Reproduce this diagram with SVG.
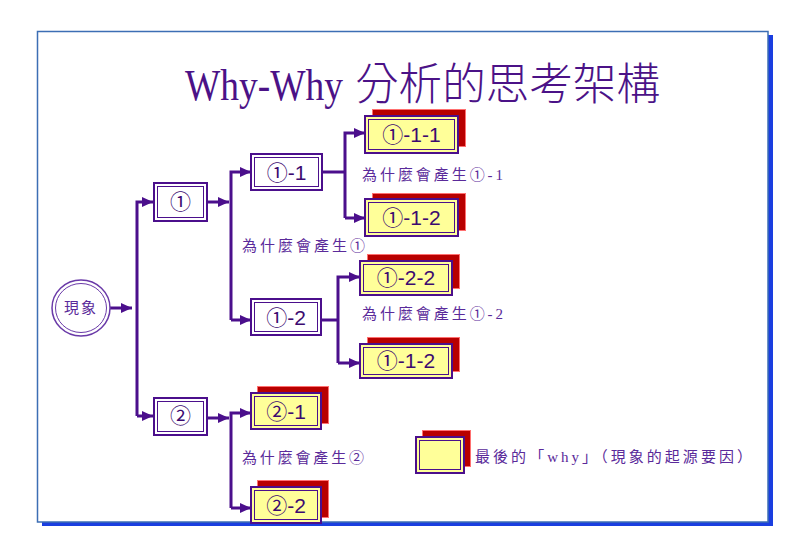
<svg xmlns="http://www.w3.org/2000/svg" width="800" height="553" viewBox="0 0 800 553">
<style>
.ln{fill:none;stroke:#4b0f8c;stroke-width:3}
.ob{fill:#fff;stroke:#4b0f8c;stroke-width:2}
.ib{fill:none;stroke:#4b0f8c;stroke-width:1}
.yb{fill:#ffff99;stroke:#4b0f8c;stroke-width:2}
.rb{fill:#b80000;stroke:#ff7070;stroke-width:1}
.bt{font-family:"Liberation Sans","Noto Sans CJK TC",sans-serif;font-size:21px;fill:#3c0a70;text-anchor:middle}
.lb{font-family:"Liberation Serif","Noto Sans CJK TC",serif;font-size:15px;fill:#5a2a9a}
.tt{font-family:"Liberation Serif","Noto Sans CJK TC",serif;font-size:44px;fill:#4b1287}
</style>
<defs>
<marker id="ah" markerUnits="userSpaceOnUse" markerWidth="11" markerHeight="10" refX="11" refY="5" orient="auto">
<path d="M0,0 L11,5 L0,10 z" fill="#4b0f8c"/>
</marker>
</defs>
<rect x="42" y="35" width="731" height="491" fill="#1a3ee0"/>
<rect x="37.5" y="31.5" width="730.5" height="490.5" fill="#fff" stroke="#3c6eb4" stroke-width="1.5"/>
<g id="title">
<text class="tt" x="185" y="100" textLength="158" lengthAdjust="spacingAndGlyphs">Why-Why</text>
<text class="tt" x="355" y="100" textLength="305" lengthAdjust="spacingAndGlyphs" font-family="Noto Sans CJK TC, sans-serif" font-weight="300">分析的思考架構</text>
</g>
<g id="connectors">
<path class="ln" d="M110,308 H132" marker-end="url(#ah)"/>
<path class="ln" d="M137,416 V202 H153" marker-end="url(#ah)"/>
<path class="ln" d="M137,416 H153" marker-end="url(#ah)"/>
<path class="ln" d="M207,202 H229" marker-end="url(#ah)"/>
<path class="ln" d="M231,320 V172 H251" marker-end="url(#ah)"/>
<path class="ln" d="M231,320 H251" marker-end="url(#ah)"/>
<path class="ln" d="M322,172 H345"/>
<path class="ln" d="M345,218 V133 H365" marker-end="url(#ah)"/>
<path class="ln" d="M345,218 H365" marker-end="url(#ah)"/>
<path class="ln" d="M321,320 H338"/>
<path class="ln" d="M338,363 V277 H360" marker-end="url(#ah)"/>
<path class="ln" d="M338,363 H360" marker-end="url(#ah)"/>
<path class="ln" d="M207,418 H229" marker-end="url(#ah)"/>
<path class="ln" d="M231,508 V413 H251" marker-end="url(#ah)"/>
<path class="ln" d="M231,508 H251" marker-end="url(#ah)"/>
</g>
<g id="n0">
<ellipse cx="81" cy="308" rx="29" ry="28" fill="#fff" stroke="#6a3aa8" stroke-width="1.5"/>
<ellipse cx="81" cy="308" rx="25.5" ry="24.5" fill="none" stroke="#6a3aa8" stroke-width="1"/>
<text class="lb" x="81" y="313" text-anchor="middle" font-size="15" letter-spacing="2">現象</text>
</g>
<g id="n1">
<rect class="ob" x="154" y="183" width="53" height="38"/>
<rect class="ib" x="157.5" y="186.5" width="46" height="31"/>
<text class="bt" x="180.5" y="209" font-size="19">①</text>
</g>
<g id="n2">
<rect class="ob" x="154" y="398" width="53" height="37"/>
<rect class="ib" x="157.5" y="401.5" width="46" height="30"/>
<text class="bt" x="180.5" y="423" font-size="19">②</text>
</g>
<g id="n11">
<rect class="ob" x="251" y="154" width="71" height="36"/>
<rect class="ib" x="254.5" y="157.5" width="64" height="29"/>
<text class="bt" x="286.5" y="180">①-1</text>
</g>
<g id="n12">
<rect class="ob" x="251" y="299" width="70" height="36"/>
<rect class="ib" x="254.5" y="302.5" width="63" height="29"/>
<text class="bt" x="286" y="325">①-2</text>
</g>
<g id="n111">
<rect class="rb" x="372.5" y="109.5" width="93" height="37"/>
<rect class="yb" x="365" y="116" width="93" height="37"/>
<rect class="ib" x="368.5" y="119.5" width="86" height="30"/>
<text class="bt" x="411.5" y="142">①-1-1</text>
</g>
<g id="n112">
<rect class="rb" x="372.5" y="193.5" width="93" height="37"/>
<rect class="yb" x="365" y="199" width="93" height="37"/>
<rect class="ib" x="368.5" y="202.5" width="86" height="30"/>
<text class="bt" x="411.5" y="225">①-1-2</text>
</g>
<g id="n122">
<rect class="rb" x="367.5" y="254.5" width="92" height="34"/>
<rect class="yb" x="360" y="261" width="92" height="34"/>
<rect class="ib" x="363.5" y="264.5" width="85" height="27"/>
<text class="bt" x="406" y="285">①-2-2</text>
</g>
<g id="n122b">
<rect class="rb" x="367.5" y="337.5" width="92" height="34"/>
<rect class="yb" x="360" y="344" width="92" height="34"/>
<rect class="ib" x="363.5" y="347.5" width="85" height="27"/>
<text class="bt" x="406" y="368">①-1-2</text>
</g>
<g id="n21">
<rect class="rb" x="257.5" y="386.5" width="71" height="37"/>
<rect class="yb" x="251" y="393" width="70" height="36"/>
<rect class="ib" x="254.5" y="396.5" width="63" height="29"/>
<text class="bt" x="286" y="419">②-1</text>
</g>
<g id="n22">
<rect class="rb" x="257.5" y="480.5" width="71" height="37"/>
<rect class="yb" x="251" y="487" width="70" height="36"/>
<rect class="ib" x="254.5" y="490.5" width="63" height="29"/>
<text class="bt" x="286" y="513">②-2</text>
</g>
<g id="labels">
<text class="lb" x="362" y="180" textLength="141" lengthAdjust="spacing">為什麼會產生①-1</text>
<text class="lb" x="242" y="251" textLength="123" lengthAdjust="spacing">為什麼會產生①</text>
<text class="lb" x="362" y="319" textLength="141" lengthAdjust="spacing">為什麼會產生①-2</text>
<text class="lb" x="242" y="463" textLength="122" lengthAdjust="spacing">為什麼會產生②</text>
</g>
<g id="legend">
<rect class="rb" x="422.5" y="430.5" width="48" height="36"/>
<rect class="yb" x="416" y="437" width="48" height="36"/>
<rect class="ib" x="419.5" y="440.5" width="41" height="29"/>
<text class="lb" x="475" y="462" textLength="277" lengthAdjust="spacing">最後的「why」（現象的起源要因）</text>
</g>
</svg>
